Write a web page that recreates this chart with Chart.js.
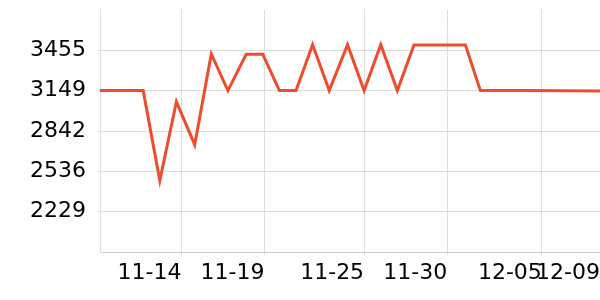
<!DOCTYPE html>
<html>
<head>
<meta charset="utf-8">
<script src="https://cdn.jsdelivr.net/npm/chart.js@4/dist/chart.umd.min.js"></script>
<style>
  html, body { margin: 0; padding: 0; background: #fff; }
  #wrap { width: 600px; height: 300px; }
</style>
</head>
<body>
<div id="wrap"><canvas id="priceChart"></canvas></div>
<script>
/* ===== DATA ===== */
// x = days counted from 11-14
const pointDays = [-4.9, -2.3, -1.3, -0.3, 0.8, 1.8, 2.8, 3.9, 4.9, 5.9, 6.9, 7.9, 8.9, 10.0, 11.0, 12.0, 13.0, 14.0, 17.1, 18.0, 20.8, 25.2];
const pointValues = [3149, 3149, 2465, 3065, 2738, 3428, 3149, 3425, 3425, 3149, 3149, 3498, 3149, 3498, 3149, 3498, 3149, 3495, 3495, 3149, 3149, 3146];

const xTickDays = [0, 5, 11, 16, 21.7, 25.2];
const xTickLabels = ["11-14", "11-19", "11-25", "11-30", "12-05", "12-09"];

const yTickValues = [2229, 2536, 2842, 3149, 3455];
const yMin = 1922.4;
const yMax = 3761.6;

/* ===== LINE CHART ===== */
const ctx = document.getElementById("priceChart");

new Chart(ctx, {
  type: "line",
  data: {
    datasets: [
      {
        data: pointDays.map((d, i) => ({ x: d, y: pointValues[i] })),
        borderColor: "#ef4c2d",
        borderWidth: 3,
        pointRadius: 0,
        tension: 0,
        fill: false,
      },
    ],
  },
  options: {
    responsive: true,
    maintainAspectRatio: false,
    animation: false,
    layout: { padding: { top: 10, right: 0, left: 0, bottom: 0 } },
    plugins: {
      legend: { display: false },
      tooltip: { enabled: false },
    },
    scales: {
      x: {
        type: "linear",
        min: pointDays[0],
        max: pointDays[pointDays.length - 1],
        afterBuildTicks: (scale) => {
          scale.ticks = xTickDays.map((v) => ({ value: v }));
        },
        afterFit: (scale) => {
          scale.height = 48;
          scale.paddingLeft = 0;
          scale.paddingRight = 0;
        },
        grid: { color: "#dddddd", tickLength: 3 },
        border: { color: "#cccccc" },
        ticks: {
          autoSkip: false,
          maxRotation: 0,
          align: "end",
          padding: 5,
          color: "#000",
          font: { family: "DejaVu Sans", size: 22 },
          callback: (value, i) => xTickLabels[i],
        },
      },
      y: {
        min: yMin,
        max: yMax,
        afterBuildTicks: (scale) => {
          scale.ticks = yTickValues.map((v) => ({ value: v }));
        },
        afterFit: (scale) => {
          scale.width = 100;
          scale.paddingTop = 0;
          scale.paddingBottom = 0;
        },
        grid: { color: "#dddddd", tickLength: 2 },
        border: { color: "#dddddd" },
        ticks: {
          padding: 12,
          color: "#000",
          font: { family: "DejaVu Sans", size: 22 },
          callback: (value) => String(value),
        },
      },
    },
  },
});
</script>
</body>
</html>
